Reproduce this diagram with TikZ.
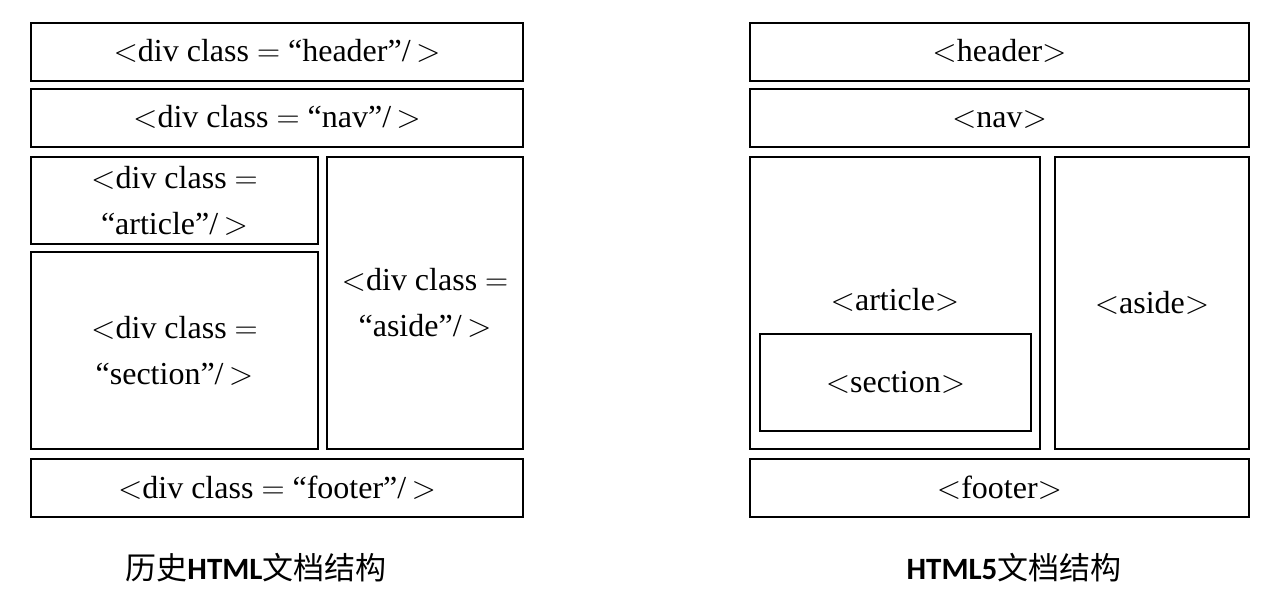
\documentclass[tikz,border=0pt]{standalone}
\usepackage{fontspec}
\setmainfont{Liberation Serif}
\newfontfamily\cjk{Noto Sans CJK SC}
\newfontfamily\lat{Carlito}
\newfontfamily\symf{Latin Modern Roman}
\usetikzlibrary{positioning}
\tikzset{
  cell/.style={draw,line width=1.8pt,inner sep=0pt,align=center,
    font=\fontsize{32}{46}\selectfont},
  oneline/.style={text height=22pt,text depth=2pt},
  caption/.style={inner sep=0pt,font=\fontsize{31}{36}\selectfont}
}
\newcommand{\lt}{{\symf<}}
\newcommand{\gt}{{\symf>}}
\newcommand{\eq}{{\symf=}}
\newcommand{\tagname}[1]{\lt#1\gt}
\newcommand{\oldtag}[1]{\lt div class \eq\ “#1”/\,\gt}

\begin{document}
\begin{tikzpicture}[x=1pt,y=-1pt]
\useasboundingbox (0,0) rectangle (1265,601);
% old layout
\node[cell,oneline,minimum width=492,minimum height=58] (oldhead) at (277,52) {\oldtag{header}};
\node[cell,oneline,minimum width=492,minimum height=58] (oldnav) at (277,118) {\oldtag{nav}};
\node[cell,minimum width=287,minimum height=87] (oldart) at (174.5,200.5) {\lt div class \eq\\“article”/\,\gt};
\node[cell,minimum width=287,minimum height=197] (oldsec) at (174.5,350.5) {\lt div class \eq\\“section”/\,\gt};
\node[cell,minimum width=196,minimum height=292] (oldaside) at (425,303) {\lt div class \eq\\“aside”/\,\gt};
\node[cell,oneline,minimum width=492,minimum height=58] (oldfoot) at (277,488) {\oldtag{footer}};
\node[caption] (oldcap) at (256,568) {{\cjk 历史}{\lat\bfseries HTML}{\cjk 文档结构}};
% html5 layout
\node[cell,oneline,minimum width=499,minimum height=58] (newhead) at (999.5,52) {\tagname{header}};
\node[cell,oneline,minimum width=499,minimum height=58] (newnav) at (999.5,118) {\tagname{nav}};
\node[cell,minimum width=290,minimum height=292] (newart) at (895,303) {};
\node[cell,oneline,draw=none] (newartlabel) at (895,300) {\tagname{article}};
\node[cell,oneline,minimum width=271,minimum height=97] (newsec) at (895.5,382.5) {\tagname{section}};
\node[cell,oneline,minimum width=194,minimum height=292] (newaside) at (1152,303) {\tagname{aside}};
\node[cell,oneline,minimum width=499,minimum height=58] (newfoot) at (999.5,488) {\tagname{footer}};
\node[caption] (newcap) at (1014,568) {{\lat\bfseries HTML5}{\cjk 文档结构}};
\end{tikzpicture}
\end{document}
